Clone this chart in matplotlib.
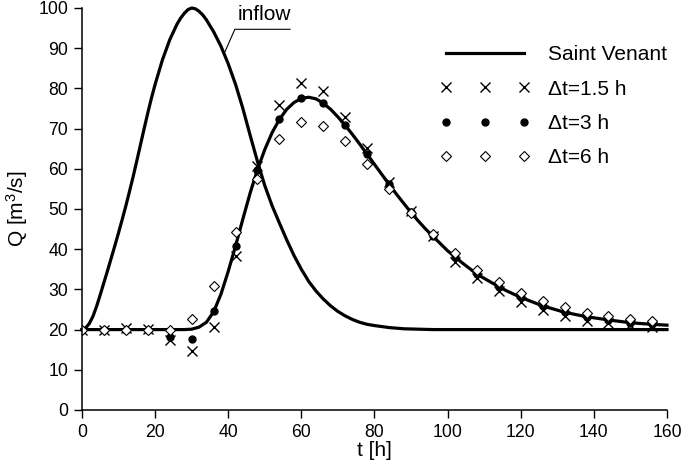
import matplotlib
matplotlib.use('Agg')
import matplotlib.pyplot as plt

# inflow hydrograph
t_in = [0, 1, 2, 3, 4, 5, 6, 7, 8, 9, 10, 11, 12, 13, 14, 15, 16, 17, 18,
        19, 20, 22, 24, 26, 27, 28, 29, 30, 31, 32, 33, 34, 36, 38, 40, 42,
        44, 46, 48, 50, 52, 54, 56, 58, 60, 62, 64, 66, 68, 70, 72, 74, 76,
        78, 80, 84, 88, 92, 96, 160]
q_in = [20, 20.4, 21.5, 23.3, 25.8, 28.7, 31.7, 34.7, 37.8, 40.9, 44.1, 47.4,
        50.8, 54.4, 58.1, 62, 66, 70, 73.9, 77.6, 81, 87.1, 92.1, 96, 97.5,
        98.7, 99.6, 100, 99.8, 99.2, 98.3, 97.1, 94.1, 90.5, 86.1, 81, 75,
        68.3, 61.8, 55.8, 50.8, 46.5, 42.3, 38.4, 35, 32, 29.6, 27.6, 25.9,
        24.5, 23.4, 22.5, 21.8, 21.3, 21, 20.5, 20.2, 20.1, 20, 20]

# Saint Venant outflow
t_sv = [0, 10, 20, 28, 30, 32, 34, 36, 38, 40, 42, 44, 46, 48, 50, 52, 54,
        56, 58, 60, 62, 64, 66, 68, 70, 72, 74, 76, 78, 80, 82, 84, 86, 88,
        90, 92, 94, 96, 100, 104, 108, 112, 116, 120, 126, 132, 138, 144,
        150, 156, 160]
q_sv = [20, 20, 20, 20, 20.1, 20.6, 21.8, 24.4, 28.8, 34.5, 40.8, 47.5, 54,
        59.8, 64.8, 69, 72.3, 74.8, 76.5, 77.5, 77.8, 77.4, 76.3, 74.8, 72.9,
        70.8, 68.5, 66.1, 63.6, 61.1, 58.6, 56.1, 53.7, 51.4, 49.1, 47, 45,
        43.2, 39.6, 36.6, 33.8, 31.7, 29.7, 28, 25.9, 24.3, 23.2, 22.4, 21.7,
        21.3, 21.1]

# routed results, every 6 h
t_pts = [0, 6, 12, 18, 24, 30, 36, 42, 48, 54, 60, 66, 72, 78, 84, 90, 96,
         102, 108, 114, 120, 126, 132, 138, 144, 150, 156]
q_dt15 = [20, 20, 20.3, 20.2, 17.4, 14.7, 20.6, 38.3, 60.7, 75.9, 81.4, 79.4,
          73, 65.1, 56.8, 49.6, 43.2, 36.9, 32.8, 29.6, 26.8, 24.9, 23.4,
          22.2, 21.6, 21.1, 20.7]
q_dt3 = [20, 20, 20, 20, 18.2, 17.6, 24.7, 40.9, 59.6, 72.4, 77.5, 76.3,
         70.9, 63.7, 56.2, 49.2, 43.3, 38.1, 33.8, 30.7, 28, 25.9, 24.3, 23.2,
         22.4, 21.7, 21.3]
q_dt6 = [20, 20, 20, 20, 20, 22.7, 30.9, 44.2, 57.5, 67.3, 71.7, 70.7, 66.9,
         61.2, 55, 49, 43.8, 39, 34.8, 31.8, 29.2, 27.1, 25.5, 24.2, 23.4,
         22.6, 22.1]

x_ticks = list(range(0, 161, 20))
y_ticks = list(range(0, 101, 10))

plt.rcParams['font.family'] = ['Liberation Sans', 'DejaVu Sans']
plt.rcParams['mathtext.fontset'] = 'custom'
plt.rcParams['mathtext.rm'] = 'Liberation Sans'
plt.rcParams['mathtext.it'] = 'Liberation Sans:italic'

fig = plt.figure(figsize=(6.85, 4.76), dpi=100)
ax = fig.add_axes([0.1197, 0.1387, 0.854, 0.8445])

ax.plot(t_in, q_in, color='black', lw=2.3, clip_on=False)
ax.plot(t_sv, q_sv, color='black', lw=2.3, label='Saint Venant', clip_on=False)
ax.plot(t_pts, q_dt15, ls='none', marker='x', ms=6.5, mew=1.0, color='black',
        label='\u0394t=1.5 h')
ax.plot(t_pts, q_dt3, ls='none', marker='o', ms=5, color='black',
        label='\u0394t=3 h')
ax.plot(t_pts, q_dt6, ls='none', marker='D', ms=5, mew=0.8, mfc='white',
        mec='black', label='\u0394t=6 h')

# label for the inflow curve
ax.plot([39.1, 41.8, 56.9], [89.1, 94.7, 94.7], color='black', lw=0.8)
ax.text(50.0, 98.3, 'inflow', fontsize=15, ha='center', va='center')

ax.set_xlim(0, 160)
ax.set_ylim(0, 100)
ax.set_xticks(x_ticks)
ax.set_yticks(y_ticks)
ax.tick_params(direction='out', length=6, width=1, labelsize=12.7, pad=4)
ax.spines['top'].set_visible(False)
ax.spines['right'].set_visible(False)
ax.spines['left'].set_linewidth(1.1)
ax.spines['bottom'].set_linewidth(1.1)
ax.set_xlabel('t [h]', fontsize=15, labelpad=0)
ax.set_ylabel('Q [m$^3$/s]', fontsize=15, labelpad=6)

ax.legend(loc='upper left', bbox_to_anchor=(0.612, 0.907), frameon=False,
          fontsize=15, numpoints=3, handlelength=4.33, handletextpad=0.87,
          labelspacing=0.73, borderpad=0, borderaxespad=0)

plt.savefig('out.png', dpi=100)
